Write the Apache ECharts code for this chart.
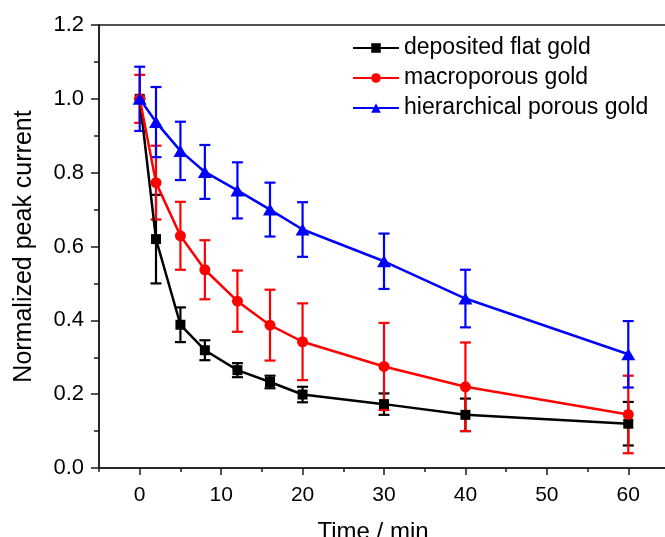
<!DOCTYPE html>
<html>
<head>
<meta charset="utf-8">
<script src="https://cdn.jsdelivr.net/npm/echarts@6/dist/echarts.min.js"></script>
<style>
html,body{margin:0;padding:0;background:#fff;}
#chart{width:665px;height:537px;}
</style>
</head>
<body>
<div id="chart"></div>
<script>
var times = [0, 2, 5, 8, 12, 16, 20, 30, 40, 60];
var flatGold = [1.0, 0.62, 0.388, 0.319, 0.265, 0.233, 0.199, 0.173, 0.144, 0.120];
var flatGoldErr = [0.0, 0.12, 0.047, 0.027, 0.019, 0.017, 0.021, 0.029, 0.044, 0.059];
var macroGold = [1.0, 0.773, 0.629, 0.537, 0.452, 0.387, 0.342, 0.275, 0.22, 0.145];
var macroGoldErr = [0.065, 0.1, 0.092, 0.08, 0.083, 0.096, 0.104, 0.118, 0.12, 0.105];
var hierGold = [1.0, 0.937, 0.859, 0.802, 0.752, 0.700, 0.646, 0.560, 0.459, 0.308];
var hierGoldErr = [0.087, 0.095, 0.079, 0.073, 0.076, 0.073, 0.074, 0.075, 0.078, 0.09];
var seriesNames = ['deposited flat gold', 'macroporous gold', 'hierarchical porous gold'];
var xMajorTicks = [0, 10, 20, 30, 40, 50, 60];
var xMinorTicks = [-5, 5, 15, 25, 35, 45, 55, 65];

var FONT = 'Liberation Sans, Arial, sans-serif';
var AX = '#1a1a1a';

function pts(vals) { return times.map(function (t, i) { return [t, vals[i]]; }); }
function errPts(vals, errs) { return times.map(function (t, i) { return [t, vals[i] - errs[i], vals[i] + errs[i]]; }); }

function errSeries(vals, errs, color) {
  return {
    type: 'custom',
    silent: true,
    data: errPts(vals, errs),
    encode: { x: 0, y: [1, 2] },
    renderItem: function (params, api) {
      var x = api.value(0);
      var lo = api.coord([x, api.value(1)]);
      var hi = api.coord([x, api.value(2)]);
      var w = 5.5;
      var st = { stroke: color, lineWidth: 2.2 };
      return {
        type: 'group',
        children: [
          { type: 'line', shape: { x1: lo[0], y1: lo[1], x2: hi[0], y2: hi[1] }, style: st },
          { type: 'line', shape: { x1: lo[0] - w, y1: lo[1], x2: lo[0] + w, y2: lo[1] }, style: st },
          { type: 'line', shape: { x1: hi[0] - w, y1: hi[1], x2: hi[0] + w, y2: hi[1] }, style: st }
        ]
      };
    },
    z: 2
  };
}

function lineSeries(name, vals, color, symbol, size) {
  return {
    name: name,
    type: 'line',
    data: pts(vals),
    symbol: symbol,
    symbolSize: size,
    showAllSymbol: true,
    lineStyle: { color: color, width: 2.5 },
    itemStyle: { color: color },
    emphasis: { disabled: true },
    animation: false,
    z: 3
  };
}

var chart = echarts.init(document.getElementById('chart'), null, { renderer: 'canvas' });
chart.setOption({
  animation: false,
  backgroundColor: '#fff',
  textStyle: { fontFamily: FONT },
  grid: { left: 99, top: 25, right: -4, bottom: 69, containLabel: false, outerBoundsMode: 'none', show: true, borderColor: AX, borderWidth: 1.5, backgroundColor: 'transparent' },
  legend: {
    data: seriesNames,
    orient: 'vertical',
    left: 352,
    top: 36,
    padding: 0,
    itemWidth: 46,
    itemHeight: 12,
    itemGap: 6,
    textStyle: { fontFamily: FONT, fontSize: 23, color: '#000', lineHeight: 24 },
    selectedMode: false
  },
  xAxis: [{
    type: 'value',
    min: -5,
    max: 65,
    name: 'Time / min',
    nameLocation: 'middle',
    nameGap: 52,
    nameTextStyle: { fontFamily: FONT, fontSize: 24, color: '#000', padding: [0, 22, 0, 0] },
    axisLine: { onZero: false, lineStyle: { color: AX, width: 1.5 } },
    axisTick: { show: true, inside: false, length: 7, customValues: xMajorTicks, lineStyle: { color: AX, width: 1.5 } },
    axisLabel: { customValues: xMajorTicks, fontFamily: FONT, fontSize: 21, color: '#000', margin: 17 },
    splitLine: { show: false }
  }, {
    type: 'value',
    min: -5,
    max: 65,
    position: 'bottom',
    axisLine: { show: false, onZero: false },
    axisTick: { show: true, inside: false, length: 4, customValues: xMinorTicks, lineStyle: { color: AX, width: 1.5 } },
    axisLabel: { show: false },
    splitLine: { show: false }
  }],
  yAxis: {
    type: 'value',
    min: 0,
    max: 1.2,
    interval: 0.2,
    name: 'Normalized peak current',
    nameLocation: 'middle',
    nameGap: 62,
    nameTextStyle: { fontFamily: FONT, fontSize: 25, color: '#000' },
    axisLine: { show: true, onZero: false, lineStyle: { color: AX, width: 1.5 } },
    axisTick: { show: true, inside: false, length: 8, lineStyle: { color: AX, width: 1.5 } },
    minorTick: { show: true, splitNumber: 2, length: 5, lineStyle: { color: AX, width: 1.5 } },
    axisLabel: { fontFamily: FONT, fontSize: 22, color: '#000', margin: 15, formatter: function (v) { return v.toFixed(1); } },
    splitLine: { show: false }
  },
  series: [
    lineSeries(seriesNames[0], flatGold, '#000000', 'rect', 10),
    errSeries(flatGold, flatGoldErr, '#000000'),
    lineSeries(seriesNames[1], macroGold, '#ff0000', 'circle', 11),
    errSeries(macroGold, macroGoldErr, '#ff0000'),
    lineSeries(seriesNames[2], hierGold, '#0000ff', 'triangle', [14, 12]),
    errSeries(hierGold, hierGoldErr, '#0000ff')
  ]
});
</script>
</body>
</html>
